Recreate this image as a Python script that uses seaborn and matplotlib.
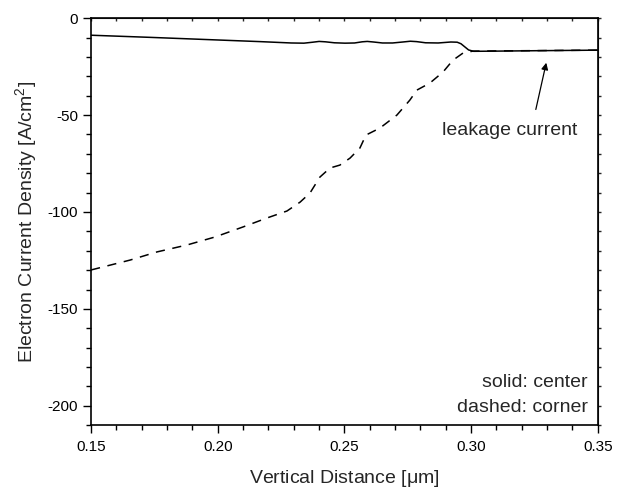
import matplotlib
matplotlib.use("Agg")
import matplotlib.pyplot as plt
import seaborn as sns
import pandas as pd
from matplotlib.ticker import MultipleLocator

sns.set_style("ticks")
plt.rcParams['font.family'] = ['Liberation Sans', 'DejaVu Sans']
plt.rcParams['mathtext.fontset'] = 'custom'
plt.rcParams['mathtext.rm'] = 'Liberation Sans'

# solid: center
center_x = [0.150, 0.1733, 0.2009, 0.2167, 0.2290, 0.2340, 0.2375, 0.2400, 0.2425,
            0.2460, 0.2502, 0.2540, 0.2570, 0.2590, 0.2615, 0.2650, 0.2690, 0.2730,
            0.2760, 0.2785, 0.2820, 0.2870, 0.2920, 0.2945, 0.2960, 0.2975, 0.2990,
            0.3010, 0.3100, 0.3250, 0.3500]
center_y = [-8.8, -9.9, -11.3, -12.1, -12.8, -12.9, -12.4, -12.0, -12.2,
            -12.7, -12.9, -12.8, -12.2, -12.0, -12.3, -12.8, -12.8, -12.3,
            -11.9, -12.1, -12.7, -12.8, -12.3, -12.4, -13.2, -14.8, -16.4,
            -17.1, -17.0, -16.8, -16.5]

# dashed: corner
corner_x = [0.150, 0.1654, 0.1760, 0.1879, 0.1989, 0.2100, 0.2194, 0.2273, 0.2325,
            0.2364, 0.2403, 0.2443, 0.2482, 0.2522, 0.2561, 0.2585, 0.2640, 0.2707,
            0.2758, 0.2786, 0.2837, 0.2889, 0.2928, 0.2968, 0.3007, 0.32, 0.35]
corner_y = [-129.9, -124.8, -120.6, -117.0, -112.9, -107.7, -103.1, -99.5, -94.9,
            -90.2, -82.0, -77.3, -75.8, -72.2, -67.0, -60.3, -56.7, -50.0,
            -42.3, -37.1, -33.5, -27.8, -21.7, -18.0, -17.0, -16.8, -16.5]

x_ticks = [0.15, 0.20, 0.25, 0.30, 0.35]
x_tick_labels = ["0.15", "0.20", "0.25", "0.30", "0.35"]
y_ticks = [0, -50, -100, -150, -200]
y_tick_labels = ["0", "-50", "-100", "-150", "-200"]

df_c = pd.DataFrame({"x": center_x, "y": center_y})
df_k = pd.DataFrame({"x": corner_x, "y": corner_y})

fig, ax = plt.subplots(figsize=(6.24, 4.91), dpi=100)
fig.subplots_adjust(left=0.146, right=0.958, top=0.963, bottom=0.134)

sns.lineplot(data=df_c, x="x", y="y", ax=ax, color="black", lw=1.1, sort=False)
sns.lineplot(data=df_k, x="x", y="y", ax=ax, color="black", lw=1.1, sort=False,
             linestyle=(0, (6, 5)))

ax.set_xlim(0.15, 0.35)
ax.set_ylim(-210, 0)
ax.set_xticks(x_ticks)
ax.set_xticklabels(x_tick_labels)
ax.set_yticks(y_ticks)
ax.set_yticklabels(y_tick_labels)
ax.xaxis.set_minor_locator(MultipleLocator(0.01))
ax.yaxis.set_minor_locator(MultipleLocator(10))
ax.tick_params(which="both", direction="out", bottom=True, left=True,
               labelsize=11, colors="black", width=1.0)
ax.tick_params(which="major", length=6)
ax.tick_params(which="minor", length=3.6)
ax.tick_params(axis="x", which="major", pad=5)
ax.tick_params(axis="y", which="major", pad=3.5)
# short ticks on top and right spines (no labels)
secx = ax.secondary_xaxis("top")
secx.set_xticks(x_ticks)
secx.xaxis.set_minor_locator(MultipleLocator(0.01))
secx.tick_params(which="both", direction="in", length=2.5, width=1.0, labeltop=False)
secx.set_xticklabels([])
secy = ax.secondary_yaxis("right")
secy.set_yticks(y_ticks)
secy.yaxis.set_minor_locator(MultipleLocator(10))
secy.tick_params(which="both", direction="out", length=2.5, width=1.0, labelright=False)
secy.set_yticklabels([])
for s in ax.spines.values():
    s.set_linewidth(1.2)
    s.set_color("black")

ax.set_xlabel(r"Vertical Distance [$\mathregular{\mu}$m]", fontsize=14, labelpad=10)
ax.set_ylabel(r"Electron Current Density [A/cm$^\mathregular{2}$]", fontsize=14, labelpad=5)

ax.annotate("", xy=(0.3299, -21.6), xytext=(0.3253, -48.5),
            arrowprops=dict(arrowstyle="-|>", color="black", lw=0.9,
                            mutation_scale=10))
ax.text(0.3153, -57.7, "leakage current", ha="center", va="center", fontsize=14)
ax.text(0.3461, -188, "solid: center", ha="right", va="center", fontsize=14)
ax.text(0.3461, -201, "dashed: corner", ha="right", va="center", fontsize=14)

fig.savefig("out.png", dpi=100)
